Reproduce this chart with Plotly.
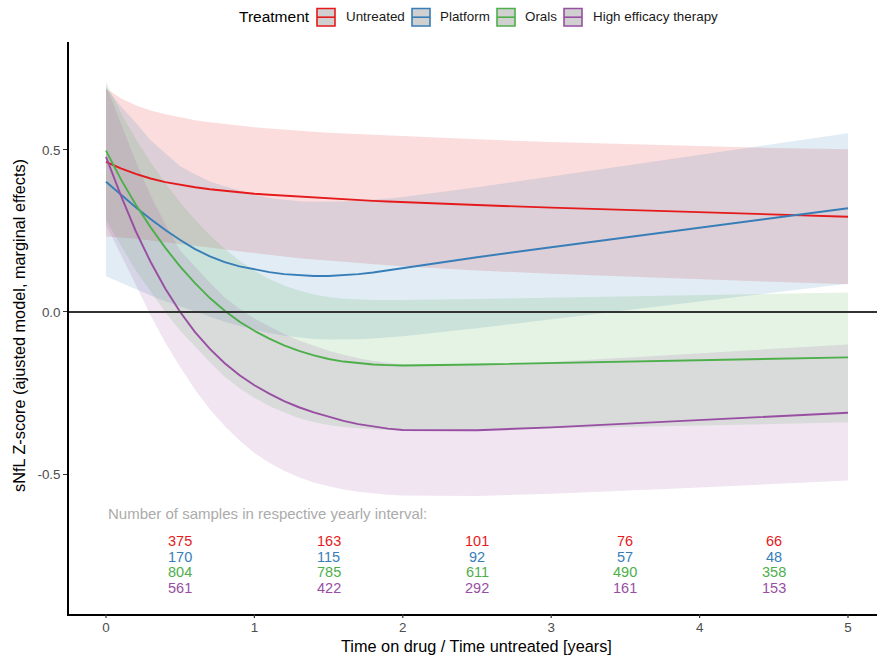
import plotly.graph_objects as go

# ---- data -------------------------------------------------------------
years = [0.0, 0.1, 0.2, 0.3, 0.4, 0.5, 0.6, 0.7, 0.8, 0.9, 1.0,
         1.1, 1.2, 1.3, 1.4, 1.5, 1.6, 1.7, 1.8, 1.9, 2.0,
         2.5, 3.0, 3.5, 4.0, 4.5, 5.0]

treatments = ["Untreated", "Platform", "Orals", "High efficacy therapy"]
colors = ["#E41A1C", "#377EB8", "#4DAF4A", "#984EA3"]

untreated_fit = [0.463, 0.443, 0.426, 0.412, 0.401, 0.392, 0.385, 0.379, 0.374, 0.369, 0.365,
                 0.362, 0.359, 0.356, 0.353, 0.350, 0.348, 0.345, 0.343, 0.341, 0.339,
                 0.330, 0.322, 0.315, 0.308, 0.301, 0.294]
untreated_hi = [0.690, 0.660, 0.638, 0.622, 0.610, 0.600, 0.592, 0.586, 0.580, 0.575, 0.570,
                0.566, 0.562, 0.559, 0.556, 0.553, 0.551, 0.549, 0.546, 0.544, 0.541,
                0.533, 0.525, 0.518, 0.511, 0.506, 0.502]
untreated_lo = [0.233, 0.230, 0.226, 0.221, 0.216, 0.211, 0.205, 0.199, 0.193, 0.187, 0.181,
                0.176, 0.171, 0.166, 0.162, 0.158, 0.154, 0.150, 0.147, 0.144, 0.141,
                0.128, 0.118, 0.109, 0.101, 0.093, 0.086]

platform_fit = [0.402, 0.362, 0.323, 0.287, 0.253, 0.222, 0.194, 0.172, 0.154, 0.141, 0.131,
                0.123, 0.117, 0.113, 0.111, 0.111, 0.113, 0.117, 0.122, 0.129, 0.136,
                0.169, 0.200, 0.230, 0.260, 0.290, 0.320]
platform_hi = [0.690, 0.635, 0.585, 0.530, 0.490, 0.450, 0.425, 0.403, 0.388, 0.374, 0.362,
               0.352, 0.346, 0.342, 0.340, 0.340, 0.341, 0.343, 0.346, 0.350, 0.355,
               0.385, 0.418, 0.452, 0.486, 0.520, 0.552]
platform_lo = [0.110, 0.090, 0.070, 0.051, 0.033, 0.017, 0.000, -0.015, -0.030, -0.043, -0.055,
               -0.065, -0.073, -0.079, -0.083, -0.085, -0.085, -0.084, -0.082, -0.079, -0.075,
               -0.050, -0.022, 0.006, 0.033, 0.060, 0.087]

orals_fit = [0.498, 0.410, 0.332, 0.262, 0.198, 0.140, 0.089, 0.043, 0.004, -0.030, -0.058,
             -0.082, -0.103, -0.120, -0.134, -0.145, -0.153, -0.158, -0.162, -0.164, -0.165,
             -0.162, -0.158, -0.154, -0.149, -0.145, -0.140]
orals_hi = [0.710, 0.615, 0.535, 0.462, 0.397, 0.338, 0.285, 0.237, 0.195, 0.158, 0.127,
            0.102, 0.082, 0.066, 0.054, 0.046, 0.041, 0.038, 0.037, 0.037, 0.037,
            0.040, 0.044, 0.048, 0.052, 0.056, 0.060]
orals_lo = [0.286, 0.205, 0.129, 0.062, -0.001, -0.058, -0.107, -0.155, -0.200, -0.235, -0.265,
            -0.290, -0.310, -0.327, -0.340, -0.349, -0.355, -0.359, -0.362, -0.364, -0.365,
            -0.364, -0.360, -0.356, -0.350, -0.346, -0.340]

het_fit = [0.479, 0.360, 0.250, 0.155, 0.072, 0.000, -0.062, -0.114, -0.158, -0.195, -0.226,
           -0.252, -0.275, -0.294, -0.310, -0.324, -0.336, -0.346, -0.354, -0.360, -0.364,
           -0.365, -0.356, -0.345, -0.334, -0.322, -0.311]
het_hi = [0.700, 0.580, 0.465, 0.360, 0.270, 0.190, 0.140, 0.090, 0.045, 0.010, -0.020,
          -0.045, -0.068, -0.088, -0.105, -0.120, -0.132, -0.143, -0.151, -0.157, -0.162,
          -0.164, -0.154, -0.141, -0.128, -0.114, -0.100]
het_lo = [0.270, 0.180, 0.085, -0.010, -0.095, -0.170, -0.240, -0.300, -0.352, -0.397, -0.435,
          -0.465, -0.490, -0.510, -0.526, -0.538, -0.548, -0.555, -0.560, -0.564, -0.566,
          -0.568, -0.561, -0.552, -0.542, -0.531, -0.520]

fits = [untreated_fit, platform_fit, orals_fit, het_fit]
highs = [untreated_hi, platform_hi, orals_hi, het_hi]
lows = [untreated_lo, platform_lo, orals_lo, het_lo]

# samples per yearly interval (0-1, 1-2, ..., 4-5)
interval_mid = [0.5, 1.5, 2.5, 3.5, 4.5]
n_untreated = [375, 163, 101, 76, 66]
n_platform = [170, 115, 92, 57, 48]
n_orals = [804, 785, 611, 490, 358]
n_het = [561, 422, 292, 161, 153]
counts = [n_untreated, n_platform, n_orals, n_het]

x_ticks = [0, 1, 2, 3, 4, 5]
y_ticks = [-0.5, 0.0, 0.5]

# ---- layout constants -------------------------------------------------
W, H = 877, 656
L, R, T, B = 69, 0, 42, 42
FONT = "Liberation Sans, Arial, sans-serif"
AX_TXT = "#4D4D4D"


def rgba(hex_color, a):
    h = hex_color.lstrip("#")
    r, g, b = int(h[0:2], 16), int(h[2:4], 16), int(h[4:6], 16)
    return f"rgba({r},{g},{b},{a})"


def px_x(p):
    return (p - L) / (W - L - R)


def px_y(p):
    return (H - B - p) / (H - T - B)


fig = go.Figure()

# confidence ribbons
for name, col, hi, lo in zip(treatments, colors, highs, lows):
    fig.add_trace(go.Scatter(x=years, y=hi, mode="lines", line=dict(width=0),
                             hoverinfo="skip", showlegend=False))
    fig.add_trace(go.Scatter(x=years, y=lo, mode="lines", line=dict(width=0),
                             fill="tonexty", fillcolor=rgba(col, 0.15),
                             hoverinfo="skip", showlegend=False))

# fitted marginal effects
for name, col, fit in zip(treatments, colors, fits):
    fig.add_trace(go.Scatter(x=years, y=fit, mode="lines", name=name,
                             line=dict(color=col, width=1.9),
                             showlegend=False))

annotations = []
shapes = []

# sample counts
annotations.append(dict(x=0, y=-0.623, xref="x", yref="y",
                        text="Number of samples in respective yearly interval:",
                        showarrow=False, xanchor="left", yanchor="middle",
                        font=dict(family=FONT, size=15, color="#ABABAB")))
row_y = [-0.707, -0.755, -0.803, -0.852]
for col, ns, ry in zip(colors, counts, row_y):
    for xm, n in zip(interval_mid, ns):
        annotations.append(dict(x=xm, y=ry, xref="x", yref="y", text=str(n), showarrow=False,
                                xanchor="center", yanchor="middle",
                                font=dict(family=FONT, size=14.5, color=col)))

# x tick marks drawn separately so the labels sit close to the axis
for v in x_ticks:
    shapes.append(dict(type="line", xref="x", yref="paper", x0=v, x1=v,
                       y0=0, y1=-4 / (H - T - B), line=dict(color="#333333", width=1.2)))

# axis titles
annotations.append(dict(x=px_x(476), y=px_y(646), xref="paper", yref="paper",
                        text="Time on drug / Time untreated [years]", showarrow=False,
                        xanchor="center", yanchor="middle",
                        font=dict(family=FONT, size=16.3, color="#000000")))
annotations.append(dict(x=px_x(19), y=px_y(326), xref="paper", yref="paper",
                        text="sNfL Z-score (ajusted model, marginal effects)", showarrow=False,
                        textangle=-90, xanchor="center", yanchor="middle",
                        font=dict(family=FONT, size=16.3, color="#000000")))

# legend
annotations.append(dict(x=px_x(237), y=px_y(17), xref="paper", yref="paper", text="Treatment",
                        showarrow=False, xanchor="left", yanchor="middle",
                        font=dict(family=FONT, size=15.5, color="#000000")))
key_left = [317, 412, 497, 564]
label_left = [344, 438, 523, 591]
for name, col, kx, lx in zip(treatments, colors, key_left, label_left):
    shapes.append(dict(type="rect", xref="paper", yref="paper",
                       x0=px_x(kx), x1=px_x(kx + 18), y0=px_y(26), y1=px_y(8.5),
                       fillcolor="#D0D0D0", line=dict(color=col, width=1.6), layer="above"))
    shapes.append(dict(type="line", xref="paper", yref="paper",
                       x0=px_x(kx), x1=px_x(kx + 18), y0=px_y(17.2), y1=px_y(17.2),
                       line=dict(color=col, width=1.6), layer="above"))
    annotations.append(dict(x=px_x(lx), y=px_y(17), xref="paper", yref="paper", text=name,
                            showarrow=False, xanchor="left", yanchor="middle",
                            font=dict(family=FONT, size=13.4, color="#1A1A1A")))

# horizontal reference at zero
shapes.append(dict(type="line", xref="paper", yref="y", x0=0, x1=1, y0=0, y1=0,
                   line=dict(color="#333333", width=2), layer="above"))

fig.update_layout(
    width=W, height=H,
    margin=dict(l=L, r=R, t=T, b=B, pad=0),
    paper_bgcolor="white", plot_bgcolor="white",
    showlegend=False,
    annotations=annotations, shapes=shapes,
    xaxis=dict(range=[-0.2493, 5.1954], tickvals=x_ticks, ticktext=[str(v) for v in x_ticks],
               showgrid=False, zeroline=False, showline=True, linecolor="#000000", linewidth=1.6,
               ticks="", tickfont=dict(family=FONT, size=13.4, color=AX_TXT)),
    yaxis=dict(range=[-0.9321, 0.8333], tickvals=y_ticks, ticktext=[f"{v:.1f}" for v in y_ticks],
               showgrid=False, zeroline=False, showline=True, linecolor="#000000", linewidth=1.6,
               ticks="outside", ticklen=4, tickwidth=1.2, tickcolor="#333333",
               tickfont=dict(family=FONT, size=13.4, color=AX_TXT)),
)

fig.write_html("out.html")
